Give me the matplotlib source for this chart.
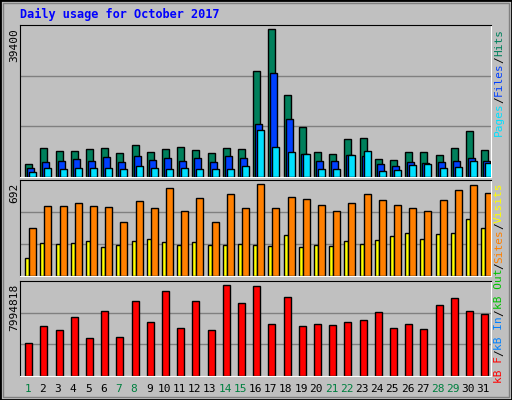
import matplotlib
matplotlib.use("Agg")
import matplotlib.pyplot as plt
from matplotlib.patches import Rectangle
import numpy as np

days = list(range(1, 32))
weekend = [1, 7, 8, 14, 15, 21, 22, 28, 29]
hits = [3460, 7710, 6920, 6920, 7450, 7710, 6380, 8510, 6650, 7450, 7980, 7180, 6380, 7710, 7450,
        28200, 39400, 21800, 13300, 6650, 6120, 10100, 10400, 4790, 4520, 6650, 6650, 5850, 7710, 12200, 7180]
files = [2390, 3990, 4260, 4790, 4260, 5320, 3990, 5590, 4520, 5050, 4260, 5050, 3990, 5590, 5050,
         14100, 27700, 15400, 6120, 4260, 4260, 5850, 5590, 3460, 2930, 3990, 3720, 3990, 4260, 5050, 4260]
pages = [1330, 2390, 2130, 2390, 2390, 2390, 2130, 2930, 2390, 2130, 2390, 2130, 2130, 2130, 2930,
         12500, 7980, 6650, 6120, 2130, 2130, 5850, 6920, 1600, 1860, 3190, 3460, 2390, 2660, 4260, 3720]
sites = [361, 526, 526, 549, 526, 519, 406, 564, 511, 662, 489, 587, 406, 617, 511,
         692, 511, 594, 579, 534, 489, 549, 617, 572, 534, 511, 489, 572, 647, 684, 624]
visits = [135, 248, 241, 248, 263, 218, 233, 263, 278, 256, 233, 256, 233, 233, 241,
          233, 226, 308, 218, 233, 226, 263, 241, 271, 301, 323, 278, 316, 323, 429, 361]
kbytes = [2917800, 4405900, 4055700, 5193700, 3355500, 5718900, 3443000, 6594200, 4756000, 7469600,
          4230800, 6594200, 4055700, 7994818, 6419200, 7907200, 4580900, 6944400, 4405900, 4580900,
          4493400, 4756000, 4931100, 5631400, 4230800, 4580900, 4143300, 6244100, 6856800, 5718900, 5456300]

BG = "#C0C0C0"
W, H = 512, 400
fig = plt.figure(figsize=(5.12, 4.0), dpi=100, facecolor=BG)

def fr(x0, y0, x1, y1):
    return [x0 / W, 1 - y1 / H, (x1 - x0) / W, (y1 - y0) / H]

# outer bevel
fig.patches.append(Rectangle((0, 0), 1, 1, transform=fig.transFigure, fill=False, ec="black", lw=2))
fig.patches.append(Rectangle((3/W, 3/H), 1-6/W, 1-6/H, transform=fig.transFigure, fill=False, ec="#808080", lw=1))

x = np.array(days)
px = 471 / 31 / 1.0  # pixels per day unit
u = 1 / px
panels = [(25, 177, 148), (180, 276, 92), (281, 376, 91.3)]
axes = []
for (y0, y1, mh) in panels:
    ax = fig.add_axes(fr(20, y0, 491, y1))
    ax.set_facecolor(BG)
    ax.set_xlim(0.5, 31.5)
    for s in ["left", "top"]:
        ax.spines[s].set_color("black")
    for s in ["right", "bottom"]:
        ax.spines[s].set_color("white")
    ax.set_xticks([]); ax.set_yticks([])
    axes.append(ax)

def setup(ax, mx, y0, y1, mh):
    top = mx * (y1 - y0) / mh
    ax.set_ylim(0, top)
    for f in (1/3, 2/3):
        ax.axhline(top * f, color="#808080", lw=1, zorder=0)

w = 7 * u
a0 = -2.3 * u
setup(axes[0], max(hits), *panels[0])
axes[0].bar(x + a0, hits, width=w, align="edge", color="#00805C", ec="black", lw=1, zorder=2)
axes[0].bar(x + a0 + 2*u, files, width=w, align="edge", color="#0040FF", ec="black", lw=1, zorder=3)
axes[0].bar(x + a0 + 4*u, pages, width=w, align="edge", color="#00E0FF", ec="black", lw=1, zorder=4)

setup(axes[1], max(sites), *panels[1])
axes[1].bar(x + a0, visits, width=4*u, align="edge", color="#FFFF00", ec="black", lw=1, zorder=2)
axes[1].bar(x + a0 + 4*u, sites, width=w, align="edge", color="#FF8000", ec="black", lw=1, zorder=2)

setup(axes[2], max(kbytes), *panels[2])
axes[2].bar(x + a0, kbytes, width=w, align="edge", color="#FF0000", ec="black", lw=1, zorder=2)

mono = "DejaVu Sans Mono"
fs = 8
stride = 0.602 * fs * 100 / 72

fig.text(20/W, 1 - 14/H, "Daily usage for October 2017", color="#0000FF", family=mono,
         fontsize=8.6, fontweight="bold", va="center", ha="left")

for lab, (y0, y1, mh) in zip([str(max(hits)), str(max(sites)), str(max(kbytes))], panels):
    fig.text(14/W, 1 - (y0 + 3)/H, lab, rotation=90, family=mono, fontsize=fs,
             va="top", ha="center", color="black")

def stack(segs, ytop):
    y = ytop
    for t, c in segs:
        fig.text(499/W, 1 - y/H, t, rotation=90, family=mono, fontsize=fs,
                 va="top", ha="center", color=c)
        y += len(t) * stride

stack([("Hits", "#00805C"), ("/", "#000000"), ("Files", "#0040FF"), ("/", "#000000"),
       ("Pages", "#00E0FF")], 29)
stack([("Visits", "#FFFF00"), ("/", "#000000"), ("Sites", "#FF8000"), ("/", "#000000"),
       ("kB Out", "#00C000"), ("/", "#000000"), ("kB In", "#0080FF"), ("/", "#000000"),
       ("kB F", "#FF0000")], 182)

for d in days:
    xp = 20 + (d - 0.5) * px
    fig.text(xp/W, 1 - 389/H, str(d), family=mono, fontsize=fs, ha="center", va="center",
             color="#008040" if d in weekend else "black")

fig.savefig("out.png", dpi=100, facecolor=BG)
